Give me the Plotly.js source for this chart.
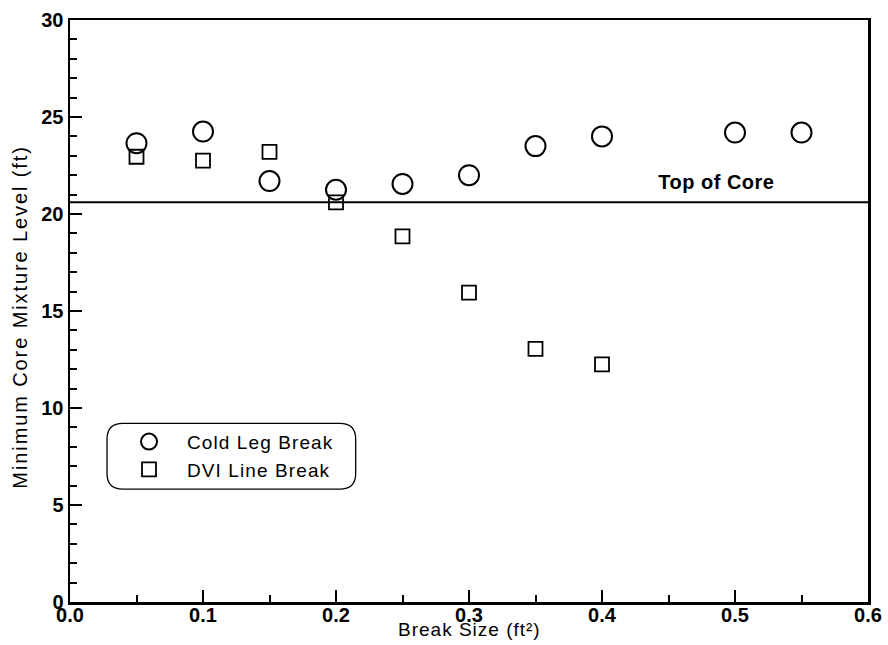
<!DOCTYPE html>
<html>
<head>
<meta charset="utf-8">
<script src="https://cdn.plot.ly/plotly-3.0.1.min.js"></script>
<style>
html,body{margin:0;padding:0;background:#fff}
#chart{width:888px;height:645px}
#chart .legendtext{letter-spacing:1.1px}
#chart .legend, #chart .legend *{clip-path:none !important}
</style>
</head>
<body>
<div id="chart"></div>
<script>
var breakSizes = [0.05, 0.10, 0.15, 0.20, 0.25, 0.30, 0.35, 0.40, 0.50, 0.55];
var coldLegLevel = [23.65, 24.25, 21.7, 21.25, 21.55, 22.0, 23.5, 24.0, 24.2, 24.2];
var dviBreakSizes = [0.05, 0.10, 0.15, 0.20, 0.25, 0.30, 0.35, 0.40];
var dviLevel = [22.95, 22.75, 23.2, 20.6, 18.85, 15.95, 13.05, 12.25];
var topOfCore = 20.6;
var xTickVals = [0, 0.1, 0.2, 0.3, 0.4, 0.5, 0.6];
var xTickText = ['0.0', '0.1', '0.2', '0.3', '0.4', '0.5', '0.6'];
var yTickVals = [0, 5, 10, 15, 20, 25, 30];
var seriesNames = ['Cold Leg Break', 'DVI Line Break'];
var xTitle = 'Break Size (ft\u00B2)';
var yTitle = 'Minimum Core Mixture Level (ft)';
var coreLabel = 'Top of Core';

var FONT = 'Liberation Sans, Arial, Helvetica, sans-serif';

var traces = [
  {
    x: breakSizes, y: coldLegLevel, type: 'scatter', mode: 'markers',
    name: seriesNames[0],
    marker: {symbol: 'circle-open', size: 20, color: '#000', line: {width: 2, color: '#000'}}
  },
  {
    x: dviBreakSizes, y: dviLevel, type: 'scatter', mode: 'markers',
    name: seriesNames[1],
    marker: {symbol: 'square-open', size: 14, color: '#000', line: {width: 1.8, color: '#000'}}
  }
];

function roundedRect(x0, y0, x1, y1, rx, ry) {
  return 'M' + (x0 + rx) + ',' + y1 +
    ' L' + (x1 - rx) + ',' + y1 +
    ' Q' + x1 + ',' + y1 + ' ' + x1 + ',' + (y1 - ry) +
    ' L' + x1 + ',' + (y0 + ry) +
    ' Q' + x1 + ',' + y0 + ' ' + (x1 - rx) + ',' + y0 +
    ' L' + (x0 + rx) + ',' + y0 +
    ' Q' + x0 + ',' + y0 + ' ' + x0 + ',' + (y0 + ry) +
    ' L' + x0 + ',' + (y1 - ry) +
    ' Q' + x0 + ',' + y1 + ' ' + (x0 + rx) + ',' + y1 + ' Z';
}

var layout = {
  width: 888, height: 645,
  margin: {l: 70, r: 20, t: 20, b: 43},
  paper_bgcolor: '#fff', plot_bgcolor: '#fff',
  font: {family: FONT, color: '#000'},
  showlegend: true,
  legend: {
    x: 0.0514, y: 0.308, xanchor: 'left', yanchor: 'top',
    bgcolor: 'rgba(0,0,0,0)', borderwidth: 0,
    font: {family: FONT, size: 19, color: '#000'},
    itemsizing: 'trace', itemwidth: 66, tracegroupgap: 0
  },
  xaxis: {
    range: [0, 0.6], tickvals: xTickVals, ticktext: xTickText,
    ticks: 'inside', ticklen: 12, tickwidth: 2, tickcolor: '#000',
    minor: {dtick: 0.05, ticks: 'inside', ticklen: 7, tickwidth: 2, tickcolor: '#000'},
    showgrid: false, zeroline: false,
    showline: true, linecolor: '#000', linewidth: 2.5, mirror: true,
    tickfont: {family: FONT, size: 20, weight: 'bold', color: '#000'},
    ticklabelstandoff: -7
  },
  yaxis: {
    range: [0, 30], tickvals: yTickVals,
    ticks: 'inside', ticklen: 12, tickwidth: 2, tickcolor: '#000',
    minor: {dtick: 1, ticks: 'inside', ticklen: 7, tickwidth: 2, tickcolor: '#000'},
    showgrid: false, zeroline: false,
    showline: true, linecolor: '#000', linewidth: 2.5, mirror: true,
    tickfont: {family: FONT, size: 20, weight: 'bold', color: '#000'}
  },
  shapes: [
    {type: 'line', xref: 'x', yref: 'y', x0: 0, x1: 0.6, y0: topOfCore, y1: topOfCore,
     line: {color: '#000', width: 2}},
    {type: 'path', xref: 'paper', yref: 'paper',
     path: roundedRect(0.0464, 0.194, 0.358, 0.307, 0.02, 0.027),
     line: {color: '#000', width: 1.3}, fillcolor: 'rgba(0,0,0,0)'}
  ],
  annotations: [
    {x: 0.486, y: topOfCore, xref: 'x', yref: 'y', yanchor: 'bottom', yshift: 7,
     text: coreLabel, showarrow: false,
     font: {family: FONT, size: 20, weight: 'bold', color: '#000'}},
    {x: 0.501, y: -0.047, xref: 'paper', yref: 'paper', xanchor: 'center', yanchor: 'middle',
     text: xTitle, showarrow: false,
     font: {family: FONT, size: 19, color: '#000'}},
    {x: -0.0627, y: 0.491, xref: 'paper', yref: 'paper', xanchor: 'center', yanchor: 'middle',
     textangle: -90, text: yTitle, showarrow: false,
     font: {family: FONT, size: 20, color: '#000'}}
  ]
};

Plotly.newPlot('chart', traces, layout, {displayModeBar: false, staticPlot: true}).then(function () {
  var anns = document.querySelectorAll('#chart .annotation-text');
  if (anns.length >= 3) {
    anns[0].style.letterSpacing = '0.5px';
    anns[1].style.letterSpacing = '1px';
    anns[2].style.letterSpacing = '1.9px';
  }
});
</script>
</body>
</html>
